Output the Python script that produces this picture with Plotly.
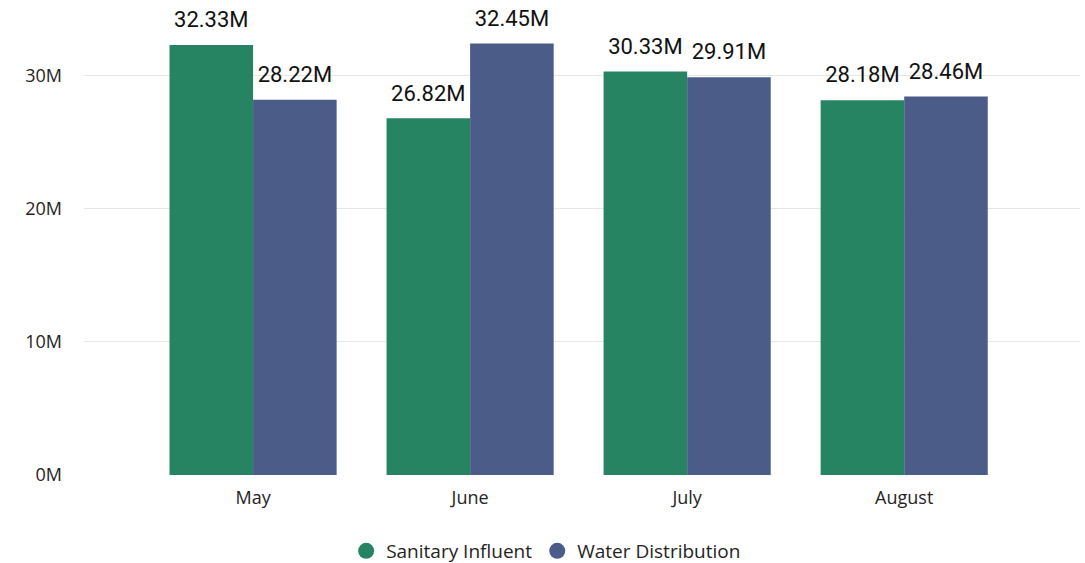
import plotly.graph_objects as go

months = ["May", "June", "July", "August"]
sanitary_influent = [32.33, 26.82, 30.33, 28.18]
water_distribution = [28.22, 32.45, 29.91, 28.46]
series_names = ["Sanitary Influent", "Water Distribution"]
colors = ["#268462", "#4B5C89"]
y_ticks = [0, 10, 20, 30]

fig = go.Figure()
for i, (name, vals, col) in enumerate(zip(series_names, [sanitary_influent, water_distribution], colors)):
    grp = f"g{i}"
    fig.add_trace(go.Bar(
        x=months, y=vals, name=name, marker_color=col, marker_line_width=0,
        offsetgroup=grp, showlegend=False, hoverinfo="skip",
    ))
    fig.add_trace(go.Scatter(
        x=months, y=vals, mode="markers+text", offsetgroup=grp,
        text=[f"{v:.2f}M" for v in vals], textposition="top center",
        textfont=dict(family="Roboto", size=22, color="#111111"),
        marker=dict(size=18, color="rgba(0,0,0,0)"),
        cliponaxis=False, showlegend=False, hoverinfo="skip",
    ))
    fig.add_trace(go.Scatter(
        x=[None], y=[None], mode="markers", name=name, offsetgroup=grp,
        marker=dict(color=col, size=16, symbol="circle"),
    ))

fig.update_layout(
    width=1085, height=563,
    margin=dict(l=84, r=5, t=10, b=88),
    paper_bgcolor="white", plot_bgcolor="white",
    barmode="group", bargap=0.23, bargroupgap=0,
    scattermode="group", scattergap=0.23,
    font=dict(family="Open Sans", color="#252423"),
    legend=dict(orientation="h", x=0.464, xanchor="center", xref="paper",
                y=0.0213, yanchor="middle", yref="container",
                font=dict(size=19, color="#252423"), tracegroupgap=0),
    showlegend=True,
)
fig.update_xaxes(range=[-0.779, 3.81], showgrid=False, showline=False, ticks="",
                 tickfont=dict(size=18, color="#252423"), ticklabelstandoff=10, automargin=False)
fig.update_yaxes(range=[0, 34.96], tickvals=y_ticks, ticktext=[f"{t}M" for t in y_ticks],
                 showgrid=True, gridcolor="#E6E6E6", gridwidth=1, zeroline=False,
                 tickfont=dict(size=18, color="#252423"), ticklabelstandoff=21, automargin=False)
fig.write_html("out.html", config={"displayModeBar": False},
               post_script="document.body.style.margin='0px';")
